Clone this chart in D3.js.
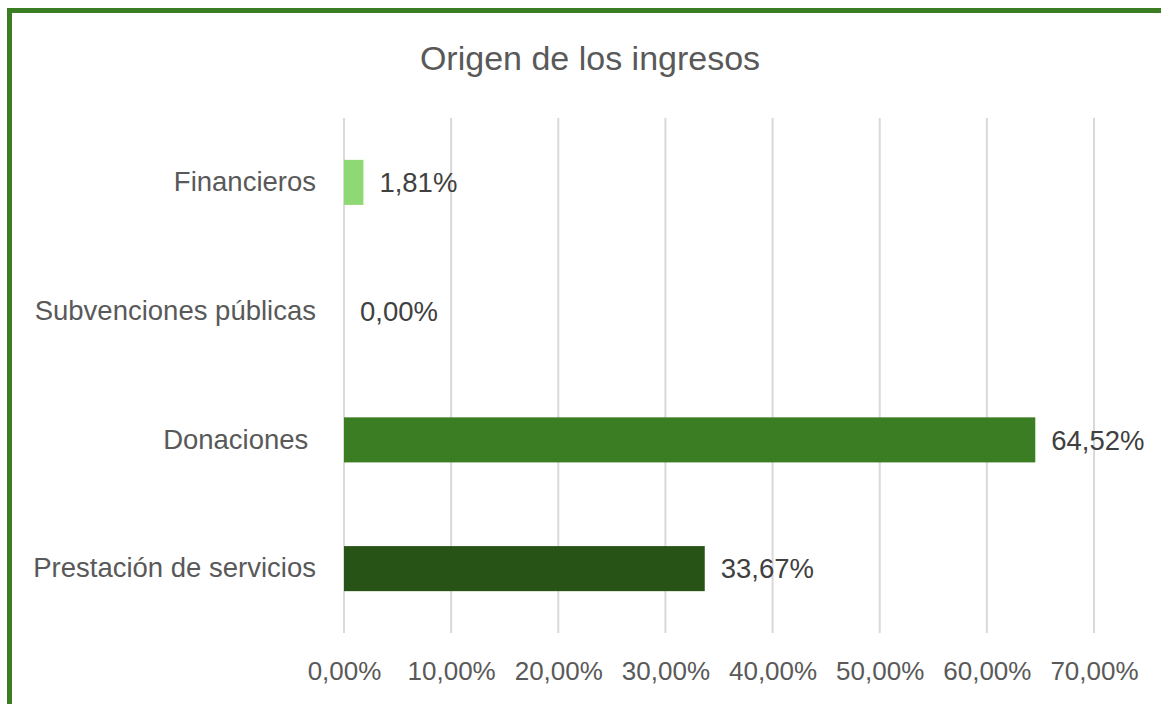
<!DOCTYPE html>
<html>
<head>
<meta charset="utf-8">
<script src="https://cdn.jsdelivr.net/npm/d3@7"></script>
<style>
  body { margin: 0; background: #fff; }
  svg { display: block; font-family: "Liberation Sans", Arial, sans-serif; }
</style>
</head>
<body>
<svg id="chart" width="1161" height="704"></svg>
<script>
var categories = ["Financieros", "Subvenciones públicas", "Donaciones ", "Prestación de servicios"];
var values = [0.0181, 0.0, 0.6452, 0.3367];
var barColors = ["#8ed973", "#8ed973", "#3a7d22", "#275317"];
var tickValues = [0, 0.1, 0.2, 0.3, 0.4, 0.5, 0.6, 0.7];

var es = d3.formatLocale({ decimal: ",", thousands: ".", grouping: [3], currency: ["", "€"] });
var pct = es.format(".2%");

var svg = d3.select("#chart");

// border (only top and left are visible in the crop)
svg.append("rect")
    .attr("x", 9.5).attr("y", 10.5)
    .attr("width", 1170).attr("height", 720)
    .attr("fill", "none")
    .attr("stroke", "#3a7d22")
    .attr("stroke-width", 5);

svg.append("text")
    .attr("x", 590).attr("y", 70)
    .attr("text-anchor", "middle")
    .style("font-size", "34px")
    .style("fill", "#595959")
    .text("Origen de los ingresos");

var x = d3.scaleLinear().domain([0, 0.7]).range([344, 1094]);
var y = d3.scaleBand().domain(categories).range([118, 633]).paddingInner(0.65).paddingOuter(0.325);

// gridlines
svg.append("g").selectAll("line")
    .data(tickValues)
    .enter().append("line")
    .attr("x1", function (d) { return x(d); })
    .attr("x2", function (d) { return x(d); })
    .attr("y1", 118).attr("y2", 633)
    .style("stroke", "#d9d9d9")
    .style("stroke-width", "2px");

// x axis labels
var xAxis = svg.append("g")
    .attr("transform", "translate(0,633)")
    .call(d3.axisBottom(x).tickValues(tickValues).tickFormat(pct).tickSize(0).tickPadding(29));
xAxis.select(".domain").remove();
xAxis.selectAll("text")
    .style("font-size", "26px")
    .style("font-family", "Liberation Sans, Arial, sans-serif")
    .style("fill", "#595959");

// category labels
var yAxis = svg.append("g")
    .attr("transform", "translate(316,0)")
    .call(d3.axisLeft(y).tickSize(0).tickPadding(0));
yAxis.select(".domain").remove();
yAxis.selectAll("text")
    .style("font-size", "27.5px")
    .style("font-family", "Liberation Sans, Arial, sans-serif")
    .style("white-space", "pre")
    .style("fill", "#595959");

// bars
svg.append("g").selectAll("rect")
    .data(values)
    .enter().append("rect")
    .attr("x", x(0))
    .attr("y", function (d, i) { return y(categories[i]); })
    .attr("width", function (d) { return x(d) - x(0); })
    .attr("height", y.bandwidth())
    .style("fill", function (d, i) { return barColors[i]; });

// data labels
svg.append("g").selectAll("text")
    .data(values)
    .enter().append("text")
    .attr("x", function (d) { return x(d) + 16; })
    .attr("y", function (d, i) { return y(categories[i]) + y.bandwidth() / 2; })
    .attr("dy", "0.35em")
    .style("font-size", "27.5px")
    .style("fill", "#404040")
    .text(function (d) { return pct(d); });
</script>
</body>
</html>
